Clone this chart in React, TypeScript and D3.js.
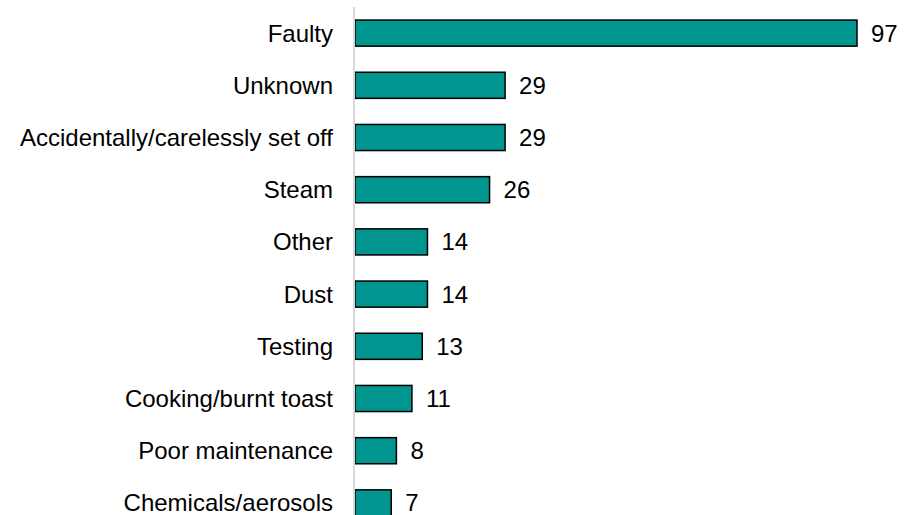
import React from "react";
import * as d3 from "d3";

const categories = [
  "Faulty",
  "Unknown",
  "Accidentally/carelessly set off",
  "Steam",
  "Other",
  "Dust",
  "Testing",
  "Cooking/burnt toast",
  "Poor maintenance",
  "Chemicals/aerosols",
];
const values = [97, 29, 29, 26, 14, 14, 13, 11, 8, 7];

export default function App() {
  const width = 919;
  const height = 515;
  const x0 = 355;
  const x = d3.scaleLinear().domain([0, 97]).range([x0, 857]);
  const y = d3
    .scaleBand<string>()
    .domain(categories)
    .range([7, 529])
    .paddingInner(0.5)
    .paddingOuter(0.25);
  const font = "'Liberation Sans', Arial, sans-serif";
  return (
    <svg
      width={width}
      height={height}
      style={{ position: "absolute", left: 0, top: 0, background: "#fff" }}
    >
      {categories.map((c, i) => {
        const yy = y(c)!;
        const bw = y.bandwidth();
        return (
          <g key={c}>
            <rect
              x={x(0)}
              y={yy}
              width={x(values[i]) - x(0)}
              height={bw}
              fill="#00958f"
              stroke="#000"
              strokeWidth={1.5}
            />
            <text
              x={x(values[i]) + 14}
              y={yy + bw / 2}
              dy="0.35em"
              fontFamily={font}
              fontSize={24}
              fill="#000"
            >
              {values[i]}
            </text>
            <text
              x={333}
              y={yy + bw / 2}
              dy="0.35em"
              textAnchor="end"
              fontFamily={font}
              fontSize={24}
              fill="#000"
            >
              {c}
            </text>
          </g>
        );
      })}
      <line x1={x0 - 1} x2={x0 - 1} y1={7} y2={height} stroke="#d9d9d9" strokeWidth={2} />
    </svg>
  );
}
